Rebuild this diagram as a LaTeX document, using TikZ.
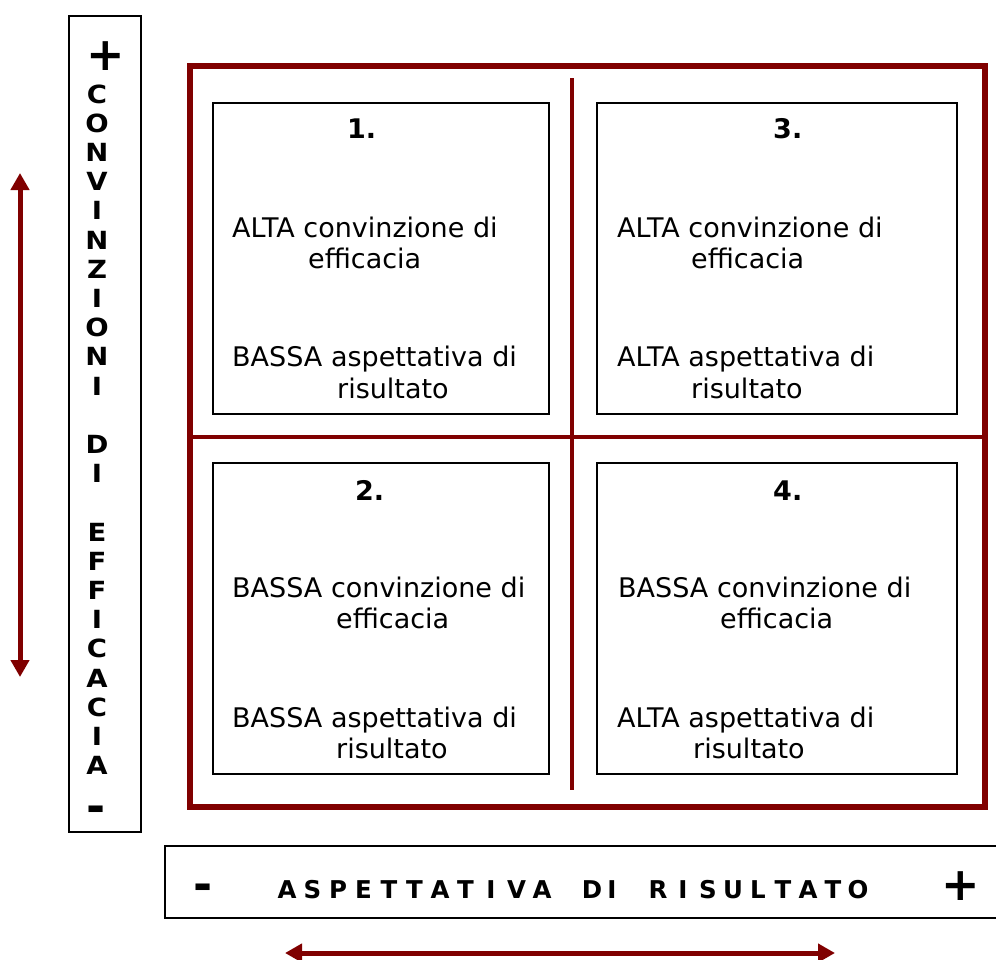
\documentclass[tikz,border=0pt]{standalone}
\usepackage{fontspec}
\setmainfont{DejaVu Sans}
\newfontfamily\widebold{DejaVu Sans Bold}[FakeStretch=1.1]
\usetikzlibrary{arrows.meta}
\definecolor{darkred}{RGB}{128,0,0}
\begin{document}
\begin{tikzpicture}[x=1pt,y=-1pt,
  quad/.style={draw=black,line width=2pt,minimum height=311pt,inner sep=0pt,anchor=north west},
  celltext/.style={anchor=base west,inner sep=0pt,font=\fontsize{27}{32}\selectfont},
  num/.style={anchor=base west,inner sep=0pt,font=\fontsize{27}{32}\selectfont\bfseries},
  vletter/.style={inner sep=0pt,font=\fontsize{25}{25}\selectfont\widebold},
  hletter/.style={inner sep=0pt,font=\fontsize{24.5}{24.5}\selectfont\bfseries},
  sign/.style={anchor=base,inner sep=0pt,font=\fontsize{46}{46}\selectfont\bfseries},
  redline/.style={draw=darkred,line width=3.5pt},
  redarrow/.style={draw=darkred,line width=5pt,
    {Triangle[length=17pt,width=18pt]}-{Triangle[length=17pt,width=18pt]}}
]
\useasboundingbox (0,0) rectangle (996,959);

% outer frame and quadrant dividers
\node[draw=darkred,line width=5.5pt,minimum width=795pt,minimum height=741pt,
      inner sep=0pt,anchor=north west] (frame) at (187,63) {};
\coordinate (divtop) at (572,78);
\coordinate (divbot) at (572,790);
\coordinate (divl) at (187,437);
\coordinate (divr) at (982,437);
\draw[redline] (divtop) -- (divbot);
\draw[redline] (divl) -- (divr);

% quadrant boxes
\node[quad,minimum width=336pt] (q1) at (212,102) {};
\node[quad,minimum width=360pt] (q3) at (596,102) {};
\node[quad,minimum width=336pt] (q2) at (212,462) {};
\node[quad,minimum width=360pt] (q4) at (596,462) {};

% quadrant 1
\node[num] (n1) at (347,138) {1.};
\node[celltext] (t1a) at (232,237) {ALTA convinzione di};
\node[celltext] (t1b) at (308,268) {efficacia};
\node[celltext] (t1c) at (232,366) {BASSA aspettativa di};
\node[celltext] (t1d) at (337,398) {risultato};

% quadrant 3
\node[num] (n3) at (773,138) {3.};
\node[celltext] (t3a) at (617,237) {ALTA convinzione di};
\node[celltext] (t3b) at (691,268) {efficacia};
\node[celltext] (t3c) at (617,366) {ALTA aspettativa di};
\node[celltext] (t3d) at (691,398) {risultato};

% quadrant 2
\node[num] (n2) at (355,500) {2.};
\node[celltext] (t2a) at (232,597) {BASSA convinzione di};
\node[celltext] (t2b) at (336,628) {efficacia};
\node[celltext] (t2c) at (232,727) {BASSA aspettativa di};
\node[celltext] (t2d) at (336,758) {risultato};

% quadrant 4
\node[num] (n4) at (773,500) {4.};
\node[celltext] (t4a) at (618,597) {BASSA convinzione di};
\node[celltext] (t4b) at (720,628) {efficacia};
\node[celltext] (t4c) at (617,727) {ALTA aspettativa di};
\node[celltext] (t4d) at (693,758) {risultato};

% vertical axis label
\node[draw=black,line width=2pt,minimum width=72pt,minimum height=816pt,
      inner sep=0pt,anchor=north west] (vbar) at (68,15) {};
\node[sign] (vplus) at (106,70) {+};
\node[sign] (vminus) at (96,822) {-};
\foreach \i/\ch in {0/C,1/O,2/N,3/V,4/I,5/N,6/Z,7/I,8/O,9/N,10/I,
                    12/D,13/I,
                    15/E,16/F,17/F,18/I,19/C,20/A,21/C,22/I,23/A}
  \node[vletter] (v\i) at (97,{94+29.2*\i}) {\ch};

% horizontal axis label
\node[draw=black,line width=2pt,minimum width=840pt,minimum height=72pt,
      inner sep=0pt,anchor=north west] (hbar) at (164,845) {};
\node[sign] (hminus) at (203,900) {-};
\node[sign] (hplus) at (961,900) {+};
\foreach \x/\ch [count=\k] in {287/A,312.5/S,338/P,363.5/E,389/T,414.5/T,
                   440/A,465.5/T,491/I,516.5/V,542/A,
                   592/D,612/I,
                   658/R,683/I,708/S,733/U,758/L,783/T,808/A,833/T,858/O}
  \node[hletter] (h\k) at (\x,890) {\ch};

% direction arrows
\coordinate (vt) at (20,173);
\coordinate (vb) at (20,677);
\draw[redarrow] (vt) -- (vb);
\coordinate (hl) at (285,953);
\coordinate (hr) at (835,953);
\draw[redarrow] (hl) -- (hr);
\end{tikzpicture}
\end{document}
